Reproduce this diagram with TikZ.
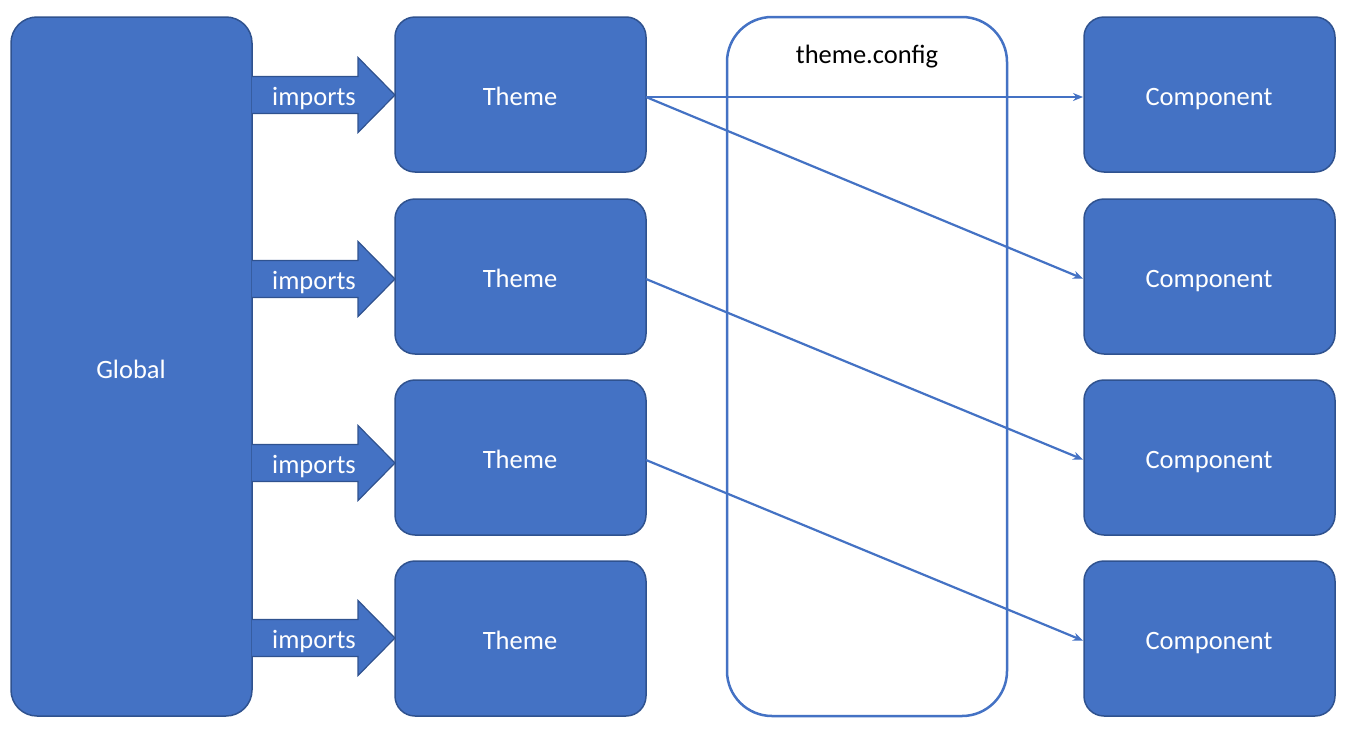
\documentclass[tikz,border=0pt]{standalone}
\usepackage{fontspec}
\setmainfont{Carlito}
\usetikzlibrary{arrows.meta}
\definecolor{boxfill}{HTML}{4472C4}
\definecolor{boxline}{HTML}{2F528F}
\tikzset{
  bluebox/.style={draw=boxline, line width=1.5pt, fill=boxfill, rounded corners=20pt},
  lbl/.style={text=white, font=\fontsize{26.5}{30}\selectfont, anchor=base, inner sep=0pt},
  link/.style={draw=boxfill, line width=2.2pt, -{Stealth[length=10pt,width=8pt]}, shorten >=1pt},
  blockarrow/.style={draw=boxline, line width=1.2pt, fill=boxfill}
}
\begin{document}
\begin{tikzpicture}[x=1pt,y=-1pt]
\useasboundingbox (0,0) rectangle (1359,739);
% Global
\draw[bluebox, rounded corners=26pt] (11,17) rectangle (252,716);
\node[lbl] (global) at (131,378) {Global};
% theme.config
\draw[draw=boxfill, line width=2.5pt, fill=white, rounded corners=45pt] (727,17) rectangle (1007,716);
\node[lbl, text=black] (cfg) at (867,63) {theme.config};
% Themes & components
\foreach \i/\yt in {1/17,2/199,3/380,4/561}{
  \draw[bluebox] (395,\yt) rectangle (646,\yt+155);
  \node[lbl] (th\i) at (520,\yt+88) {Theme};
  \coordinate (t\i) at (646,\yt+80);
  \draw[bluebox] (1084,\yt) rectangle (1335,\yt+155);
  \node[lbl] (co\i) at (1209,\yt+88) {Component};
  \coordinate (c\i) at (1084,\yt+80);
}
% block arrows
\foreach \i/\yc in {1/95,2/279,3/463,4/638}{
  \draw[blockarrow] (252,\yc-18.5) -- (358,\yc-18.5) -- (358,\yc-37.5) -- (395,\yc) -- (358,\yc+37.5) -- (358,\yc+18.5) -- (252,\yc+18.5);
  \node[lbl] (imp\i) at (314,\yc+10) {imports};
}
% connectors
\draw[link] (t1) -- (c1);
\draw[link] (t1) -- (c2);
\draw[link] (t2) -- (c3);
\draw[link] (t3) -- (c4);
\end{tikzpicture}
\end{document}
